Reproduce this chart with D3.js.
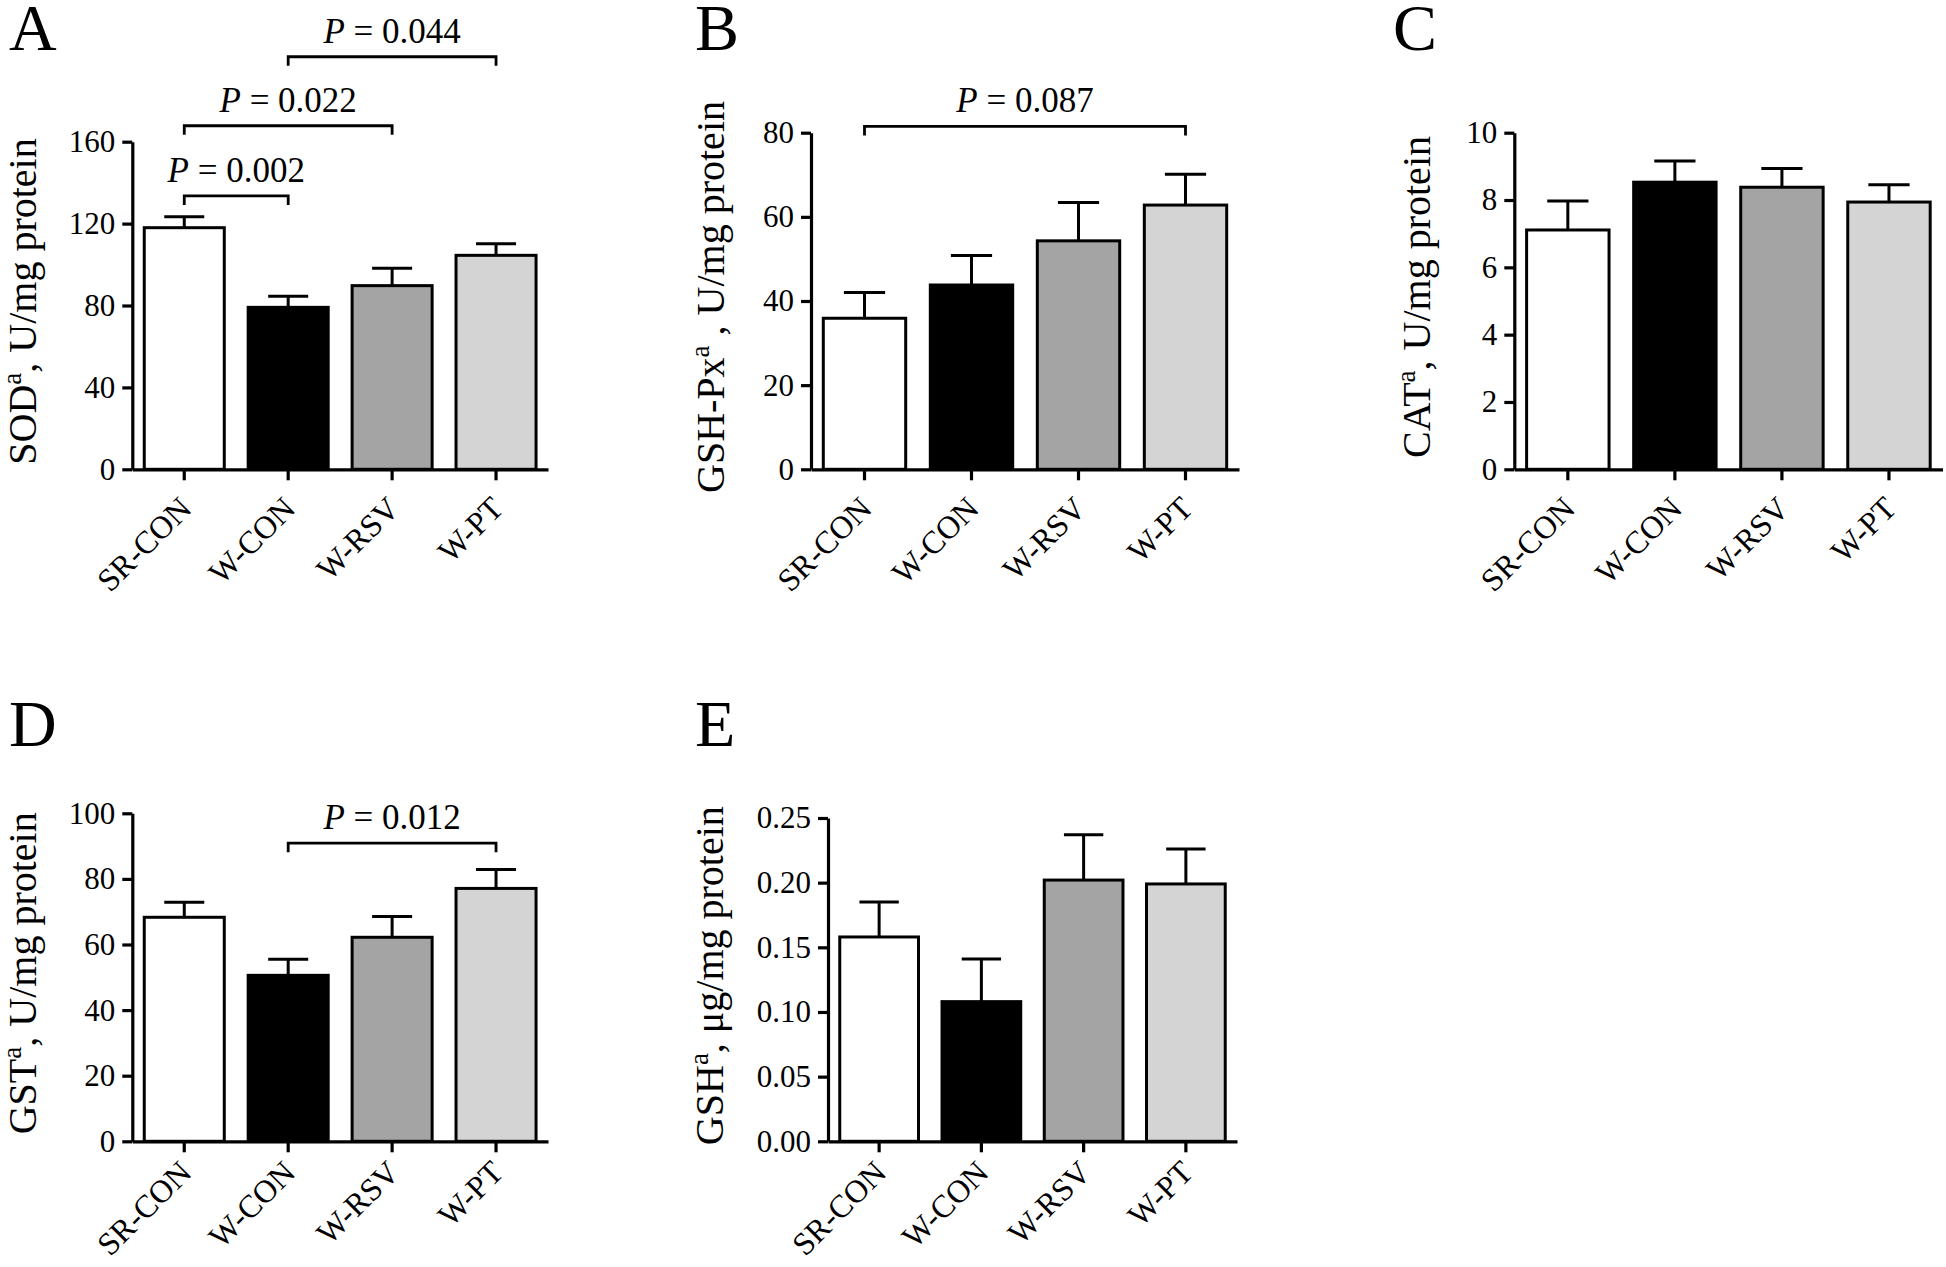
<!DOCTYPE html>
<html>
<head>
<meta charset="utf-8">
<script src="https://cdn.jsdelivr.net/npm/d3@7"></script>
<style>
  body { margin: 0; background: #fff; }
  svg { display: block; }
  text { font-family: "Liberation Serif", "Times New Roman", serif; fill: #000; }
</style>
</head>
<body>
<svg id="chart" width="1946" height="1267"></svg>
<script>
// groups shared by every panel
var groups = ["SR-CON", "W-CON", "W-RSV", "W-PT"];
var fills = ["#ffffff", "#000000", "#a4a4a4", "#d4d4d4"];

// A: SOD
var sodMean = [118.0, 79.1, 89.7, 104.5];
var sodSem  = [5.4, 5.4, 8.5, 5.7];
// B: GSH-Px
var gpxMean = [35.9, 43.8, 54.3, 62.8];
var gpxSem  = [6.1, 7.0, 9.1, 7.3];
// C: CAT
var catMean = [7.11, 8.53, 8.38, 7.94];
var catSem  = [0.86, 0.63, 0.56, 0.51];
// D: GST
var gstMean = [68.3, 50.6, 62.2, 77.1];
var gstSem  = [4.6, 4.9, 6.3, 5.8];
// E: GSH
var gshMean = [0.158, 0.108, 0.202, 0.199];
var gshSem  = [0.027, 0.033, 0.035, 0.027];

// tick values
var sodTicks = [0, 40, 80, 120, 160];
var gpxTicks = [0, 20, 40, 60, 80];
var catTicks = [0, 2, 4, 6, 8, 10];
var gstTicks = [0, 20, 40, 60, 80, 100];
var gshTicks = [0, 0.05, 0.10, 0.15, 0.20, 0.25];

// significance brackets: from group, to group, height (data units), p value
var sodBrackets = [
  {a: 0, b: 1, y: 133.5, p: "0.002"},
  {a: 0, b: 2, y: 167.8, p: "0.022"},
  {a: 1, b: 3, y: 201.5, p: "0.044"}
];
var gpxBrackets = [{a: 0, b: 3, y: 81.5, p: "0.087"}];
var gstBrackets = [{a: 1, b: 3, y: 90.9, p: "0.012"}];

var svg = d3.select("#chart");
svg.append("rect").attr("width", 1946).attr("height", 1267).attr("fill", "#fff");

var panels = [
  {letter: "A", lx: 9, ly: 50, x0: 132.3, x1: 548, yTop: 141.7, yBot: 469.3, max: 160,
   mean: sodMean, sem: sodSem, ticks: sodTicks, fmt: d3.format("d"), brackets: sodBrackets,
   title: ["SOD", ", U/mg protein"], tx: 36, lab: 41},
  {letter: "B", lx: 695, ly: 50, x0: 811, x1: 1239, yTop: 132.7, yBot: 469.3, max: 80,
   mean: gpxMean, sem: gpxSem, ticks: gpxTicks, fmt: d3.format("d"), brackets: gpxBrackets,
   title: ["GSH-Px", " , U/mg protein"], tx: 724, lab: 41},
  {letter: "C", lx: 1393, ly: 50, x0: 1514.3, x1: 1942.5, yTop: 132.7, yBot: 469.3, max: 10,
   mean: catMean, sem: catSem, ticks: catTicks, fmt: d3.format("d"), brackets: [],
   title: ["CAT", ", U/mg protein"], tx: 1430, lab: 41},
  {letter: "D", lx: 9, ly: 746, x0: 132.3, x1: 548, yTop: 813.3, yBot: 1141.3, max: 100,
   mean: gstMean, sem: gstSem, ticks: gstTicks, fmt: d3.format("d"), brackets: gstBrackets,
   title: ["GST", ", U/mg protein"], tx: 36, lab: 33},
  {letter: "E", lx: 695, ly: 746, x0: 828, x1: 1237, yTop: 818, yBot: 1141.3, max: 0.25,
   mean: gshMean, sem: gshSem, ticks: gshTicks, fmt: d3.format(".2f"), brackets: [],
   title: ["GSH", ", \u03bcg/mg protein"], tx: 723, lab: 33}
];

function drawPanel(p) {
  var g = svg.append("g");

  var x = d3.scaleBand().domain(groups).range([p.x0, p.x1])
    .paddingInner(0.23).paddingOuter(0.115);
  var y = d3.scaleLinear().domain([0, p.max]).range([p.yBot, p.yTop]);
  var bw = x.bandwidth();

  // error bars (upper only), drawn under the bars
  g.selectAll("line.err").data(p.mean).join("line")
    .attr("x1", function (d, i) { return x(groups[i]) + bw / 2; })
    .attr("x2", function (d, i) { return x(groups[i]) + bw / 2; })
    .attr("y1", function (d) { return y(d); })
    .attr("y2", function (d, i) { return y(d + p.sem[i]); })
    .attr("stroke", "#000").attr("stroke-width", 3);
  g.selectAll("line.cap").data(p.mean).join("line")
    .attr("x1", function (d, i) { return x(groups[i]) + bw / 4; })
    .attr("x2", function (d, i) { return x(groups[i]) + bw * 3 / 4; })
    .attr("y1", function (d, i) { return y(d + p.sem[i]); })
    .attr("y2", function (d, i) { return y(d + p.sem[i]); })
    .attr("stroke", "#000").attr("stroke-width", 3);

  g.selectAll("rect.bar").data(p.mean).join("rect")
    .attr("x", function (d, i) { return x(groups[i]); })
    .attr("y", function (d) { return y(d); })
    .attr("width", bw)
    .attr("height", function (d) { return y(0) - y(d); })
    .attr("fill", function (d, i) { return fills[i]; })
    .attr("stroke", "#000").attr("stroke-width", 3);

  // y axis
  var ya = g.append("g").attr("transform", "translate(" + p.x0 + ",0)")
    .call(d3.axisLeft(y).tickValues(p.ticks).tickFormat(p.fmt)
      .tickSize(10).tickSizeOuter(0).tickPadding(7));
  ya.attr("font-family", null).attr("font-size", 31);
  ya.selectAll("path, line").attr("stroke", "#000").attr("stroke-width", 3.2);

  // x axis
  var xa = g.append("g").attr("transform", "translate(0," + p.yBot + ")")
    .call(d3.axisBottom(x).tickSize(11).tickSizeOuter(0));
  xa.attr("font-family", null).attr("font-size", 32);
  xa.selectAll("path, line").attr("stroke", "#000").attr("stroke-width", 3.2);
  xa.selectAll(".tick text")
    .attr("y", null).attr("dy", null)
    .attr("text-anchor", "end")
    .attr("transform", "translate(9," + p.lab + ") rotate(-45)");

  // y title
  var cy = (p.yTop + p.yBot) / 2 - 4;
  var t = g.append("text")
    .attr("transform", "translate(" + p.tx + "," + cy + ") rotate(-90)")
    .attr("text-anchor", "middle").attr("font-size", 40);
  t.append("tspan").text(p.title[0]);
  t.append("tspan").attr("font-size", 27).attr("dy", -15).text("a");
  t.append("tspan").attr("dy", 15).text(p.title[1]);

  // panel letter
  g.append("text").attr("x", p.lx).attr("y", p.ly).attr("font-size", 66).text(p.letter);

  // brackets
  p.brackets.forEach(function (b) {
    var xa0 = x(groups[b.a]) + bw / 2, xb0 = x(groups[b.b]) + bw / 2, yy = y(b.y);
    g.append("path")
      .attr("d", "M" + xa0 + "," + (yy + 9) + "V" + yy + "H" + xb0 + "V" + (yy + 9))
      .attr("fill", "none").attr("stroke", "#000").attr("stroke-width", 2.8);
    var pt = g.append("text").attr("x", (xa0 + xb0) / 2).attr("y", yy - 14)
      .attr("text-anchor", "middle").attr("font-size", 35);
    pt.append("tspan").attr("font-style", "italic").text("P");
    pt.append("tspan").text(" = " + b.p);
  });
}

panels.forEach(drawPanel);
</script>
</body>
</html>
